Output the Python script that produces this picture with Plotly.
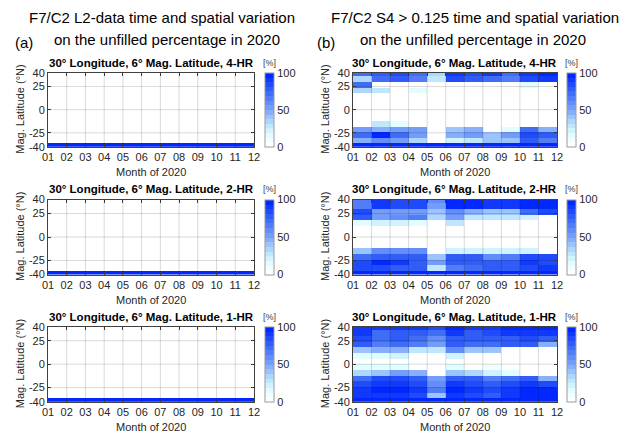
import plotly.graph_objects as go

W, H = 641, 437
OFF = 8  # page body margin of the browser shifts the figure by this many pixels

# ---------------- data ----------------
months = ["01", "02", "03", "04", "05", "06", "07", "08", "09", "10", "11", "12"]
month_pos = list(range(1, 13))
lat_centers = [39, 33, 27, 21, 15, 9, 3, -3, -9, -15, -21, -27, -33, -39]
lat_ticks = [40, 25, 0, -25, -40]
lat_labels = ["40", "25", "0", "-25", "-40"]
cbar_ticks = [0, 50, 100]

# (a) L2-data unfilled percentage (rows top -> bottom, columns Jan..Nov)
zeros = [0] * 11
full = [100] * 11
a_4hr = [zeros] * 13 + [full]
a_2hr = [zeros] * 13 + [full]
a_1hr = [zeros] * 13 + [full]

# (b) S4 > 0.125 unfilled percentage
b_4hr = [
    [70, 75, 85, 70, 35, 90, 85, 90, 70, 90, 95],
    [35, 70, 80, 65, 30, 85, 80, 70, 65, 85, 90],
    [70, 0, 0, 0, 0, 0, 0, 0, 0, 15, 0],
    [35, 25, 0, 15, 0, 0, 0, 0, 0, 0, 0],
    zeros, zeros, zeros, zeros, zeros,
    [0, 30, 15, 0, 0, 0, 0, 0, 0, 0, 0],
    [50, 45, 55, 55, 0, 40, 45, 0, 15, 70, 45],
    [70, 95, 70, 55, 0, 45, 50, 40, 55, 85, 75],
    [45, 60, 55, 35, 0, 20, 30, 40, 40, 80, 65],
    full,
]
b_2hr = [
    [65, 90, 85, 85, 60, 95, 95, 90, 90, 95, 95],
    [65, 90, 85, 85, 55, 95, 95, 90, 90, 95, 95],
    [85, 50, 55, 50, 40, 60, 45, 40, 40, 70, 85],
    [80, 55, 60, 65, 35, 50, 30, 30, 30, 20, 0],
    [15, 20, 20, 15, 0, 30, 0, 0, 0, 0, 0],
    zeros, zeros, zeros, zeros,
    [40, 60, 60, 60, 0, 20, 20, 20, 20, 20, 0],
    [70, 80, 80, 80, 40, 75, 75, 60, 65, 85, 85],
    [85, 100, 90, 80, 50, 80, 80, 75, 80, 90, 85],
    [85, 85, 80, 75, 25, 65, 70, 80, 80, 85, 90],
    full,
]
b_1hr = [
    [90, 90, 90, 90, 85, 95, 90, 90, 95, 95, 95],
    [90, 70, 75, 75, 70, 90, 80, 85, 90, 90, 90],
    [85, 70, 75, 70, 60, 80, 75, 80, 80, 85, 80],
    [75, 65, 70, 65, 55, 75, 70, 70, 75, 75, 45],
    [40, 45, 45, 30, 30, 60, 40, 40, 0, 0, 0],
    [15, 15, 20, 5, 0, 20, 0, 5, 0, 0, 0],
    [5, 5, 5, 0, 0, 0, 0, 0, 0, 0, 0],
    [15, 15, 15, 5, 0, 15, 5, 10, 0, 0, 0],
    [35, 40, 50, 45, 0, 40, 35, 20, 15, 0, 0],
    [70, 85, 85, 80, 55, 80, 75, 65, 70, 75, 45],
    [85, 90, 90, 85, 60, 90, 85, 80, 85, 90, 85],
    [90, 95, 95, 90, 65, 95, 90, 85, 90, 95, 95],
    [90, 90, 90, 85, 40, 90, 85, 80, 90, 95, 95],
    full,
]

panel_titles = ["30° Longitude, 6° Mag. Latitude, 4-HR",
                "30° Longitude, 6° Mag. Latitude, 2-HR",
                "30° Longitude, 6° Mag. Latitude, 1-HR"]
main_titles = [("F7/C2 L2-data time and spatial variation", "on the unfilled percentage in 2020", "(a)"),
               ("F7/C2 S4 > 0.125 time and spatial variation", "on the unfilled percentage in 2020", "(b)")]
x_title = "Month of 2020"
y_title = "Mag. Latitude (°N)"
unit = "[%]"

# ---------------- style ----------------
anchors = [(0.0, (255, 255, 255)), (0.12, (228, 255, 255)), (0.3, (185, 225, 255)),
           (0.5, (125, 165, 250)), (0.75, (60, 105, 245)), (1.0, (0, 40, 255))]
NLEV = 16


def interp(t):
    for (t0, c0), (t1, c1) in zip(anchors[:-1], anchors[1:]):
        if t <= t1:
            f = (t - t0) / (t1 - t0)
            return tuple(round(a + (b - a) * f) for a, b in zip(c0, c1))
    return anchors[-1][1]


cscale = []
for k in range(NLEV):
    c = interp(k / (NLEV - 1))
    col = "rgb(%d,%d,%d)" % c
    cscale.append([k / NLEV, col])
    cscale.append([(k + 1) / NLEV, col])

FONT = "Liberation Sans, Arial, sans-serif"
TXT = "#262626"

# screen-pixel layout
col_px = [(48, 254), (353, 557)]          # plot left/right
cb_px = [265, 567]                        # colorbar left
row_px = [(72.7, 146.7), (199.5, 274.5), (326.7, 401.7)]  # plot top/bottom


def px(x):
    return (x - OFF) / W


def py(y):
    return 1 - (y - OFF) / H


def note(text, x, y, size, color, angle=0, xanchor="center"):
    return dict(text=text, x=px(x), y=py(y), xref="paper", yref="paper", showarrow=False,
                xanchor=xanchor, yanchor="middle", textangle=angle,
                font=dict(family=FONT, size=size, color=color))


col_centers = [(a + b) / 2 for a, b in zip(month_pos[:-1], month_pos[1:])]
data_sets = [[a_4hr, a_2hr, a_1hr], [b_4hr, b_2hr, b_1hr]]

fig = go.Figure()
layout = {}
annotations = []
shapes = []
n = 0
for ci in range(2):
    for ri in range(3):
        n += 1
        xa = "x" if n == 1 else "x%d" % n
        ya = "y" if n == 1 else "y%d" % n
        x0, x1 = col_px[ci]
        top, bot = row_px[ri]
        fig.add_trace(go.Heatmap(
            z=data_sets[ci][ri], x=col_centers, y=lat_centers,
            zmin=0, zmax=100, colorscale=cscale, xaxis=xa, yaxis=ya,
            hoverinfo="skip",
            colorbar=dict(
                x=px(cb_px[ci]), xanchor="left", xpad=0, ypad=0,
                y=py((top + bot) / 2), yanchor="middle",
                len=(bot - top) / H, lenmode="fraction",
                thickness=9, outlinewidth=1, outlinecolor="#9a9a9a",
                tickvals=cbar_ticks, ticks="", ticklabelposition="outside",
                tickfont=dict(family=FONT, size=11, color=TXT),
            ),
        ))
        axkw = dict(showline=True, linecolor="#404040", linewidth=1, mirror="ticks",
                    ticks="inside", ticklen=3, tickcolor="#404040", showgrid=False,
                    zeroline=False, layer="above traces", automargin=False,
                    tickfont=dict(family=FONT, size=11, color=TXT))
        layout["xaxis" if n == 1 else "xaxis%d" % n] = dict(
            domain=[px(x0), px(x1)], anchor=ya, range=[month_pos[0], month_pos[-1]],
            tickvals=month_pos, ticktext=months, **axkw)
        layout["yaxis" if n == 1 else "yaxis%d" % n] = dict(
            domain=[py(bot), py(top)], anchor=xa, range=[lat_ticks[-1], lat_ticks[0]],
            tickvals=lat_ticks, ticktext=lat_labels, **axkw)
        # grid lines drawn above the cells (as in the original)
        for m in month_pos[1:-1]:
            shapes.append(dict(type="line", xref=xa, yref=ya + " domain", x0=m, x1=m, y0=0, y1=1,
                               line=dict(color="rgba(0,0,0,0.15)", width=1), layer="above"))
        for t in lat_ticks[1:-1]:
            shapes.append(dict(type="line", xref=xa + " domain", yref=ya, x0=0, x1=1, y0=t, y1=t,
                               line=dict(color="rgba(0,0,0,0.15)", width=1), layer="above"))
        cx = (x0 + x1) / 2
        annotations.append(note("<b>%s</b>" % panel_titles[ri], cx, top - 10, 11.5, "#000000"))
        annotations.append(note(unit, cb_px[ci] + 4, top - 10, 9, "#404040"))
        annotations.append(note(x_title, cx, bot + 25, 11, TXT))
        annotations.append(note(y_title, x0 - 28, (top + bot) / 2, 11, TXT, angle=-90))

for ci, (l1, l2, lab) in enumerate(main_titles):
    annotations.append(note(l1, [162, 475][ci], 17, 15, "#000000"))
    annotations.append(note(l2, [167, 473][ci], 40, 15, "#000000"))
    annotations.append(note(lab, [24, 326][ci], 43, 15, "#000000"))

fig.update_layout(width=W, height=H, margin=dict(l=0, r=0, t=0, b=0, pad=0, autoexpand=False),
                  paper_bgcolor="white", plot_bgcolor="white", showlegend=False,
                  annotations=annotations, shapes=shapes, **layout)
fig.write_html("out.html")
